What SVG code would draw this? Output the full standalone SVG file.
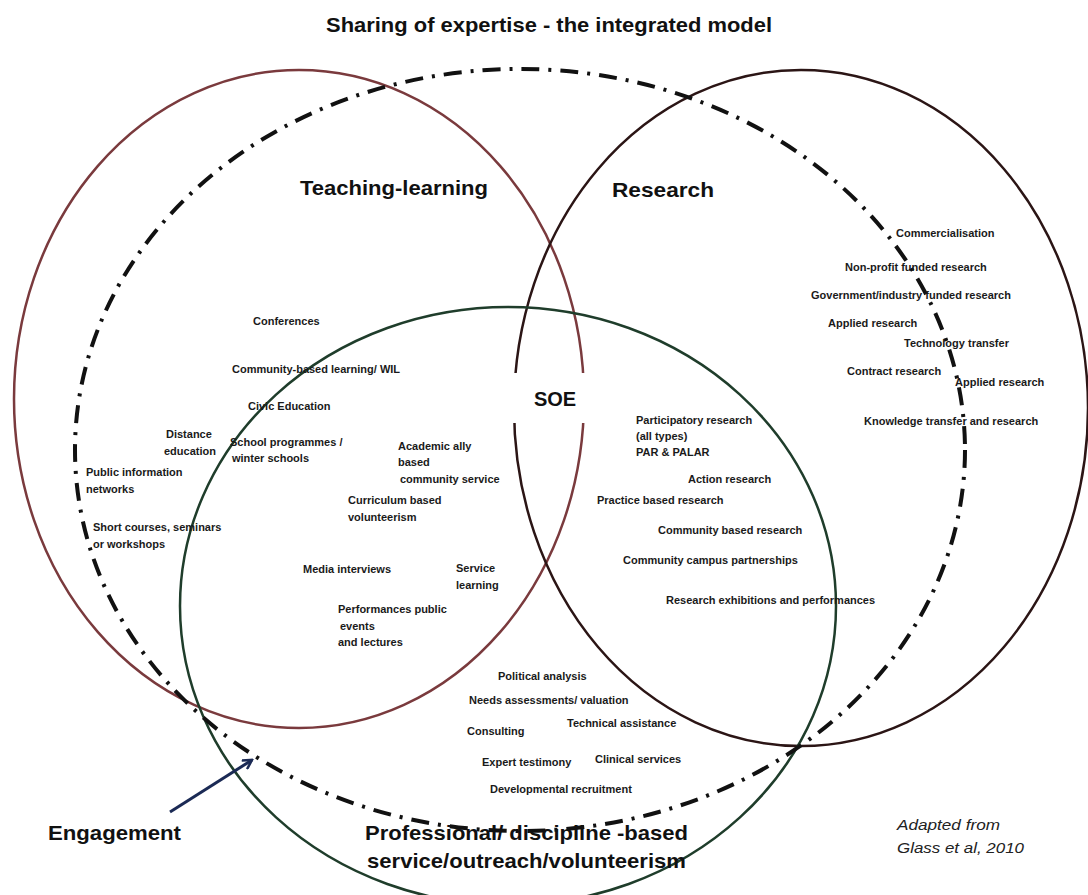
<svg xmlns="http://www.w3.org/2000/svg" width="1088" height="895" viewBox="0 0 1088 895">
<defs>
<style>
.t{font-family:"Liberation Sans",Arial,sans-serif;font-size:11px;fill:#1a1a1a;font-weight:bold;}
.h{font-family:"Liberation Sans",Arial,sans-serif;font-size:21px;font-weight:bold;fill:#111;}
.i{font-family:"Liberation Sans",Arial,sans-serif;font-size:15px;font-style:italic;fill:#222;}
.c{fill:none;stroke-width:2.5;}
</style>
<marker id="arr" markerWidth="12" markerHeight="12" refX="10" refY="6" orient="auto" markerUnits="userSpaceOnUse">
<path d="M1,1 L10,6 L1,11" fill="none" stroke="#1b2a55" stroke-width="2.5"/>
</marker>
</defs>
<rect width="1088" height="895" fill="#fff"/>
<text class="h" x="326" y="32" textLength="446" lengthAdjust="spacingAndGlyphs">Sharing of expertise - the integrated model</text>

<g id="circles">
<ellipse id="teaching" class="c" cx="299" cy="399" rx="285" ry="329" stroke="#7a3a3d"/>
<ellipse id="research" class="c" cx="801" cy="408" rx="287" ry="338" stroke="#2b1515"/>
<ellipse id="professional" class="c" cx="508" cy="606" rx="328" ry="299" stroke="#1f3d2b"/>
<ellipse id="engagement" cx="520" cy="450" rx="445" ry="381" fill="none" stroke="#111" stroke-width="4" stroke-dasharray="18 9 3 9"/>
</g>

<g id="connectors">
<line x1="170" y1="812" x2="252" y2="760" stroke="#1b2a55" stroke-width="3" marker-end="url(#arr)"/>
</g>

<g id="soe">
<rect x="511" y="373" width="81" height="50" fill="#fff"/>
<text class="h" x="555" y="406" text-anchor="middle" style="font-size:20px">SOE</text>
</g>

<g id="teaching-learning">
<text class="h" x="300" y="195" textLength="188" lengthAdjust="spacingAndGlyphs">Teaching-learning</text>
<text class="t" x="253" y="325">Conferences</text>
<text class="t" x="232" y="373">Community-based learning/ WIL</text>
<text class="t" x="248" y="410">Civic Education</text>
<text class="t" x="166" y="438">Distance</text>
<text class="t" x="164" y="455">education</text>
<text class="t" x="230" y="446">School programmes /</text>
<text class="t" x="232" y="462">winter schools</text>
<text class="t" x="398" y="450">Academic ally</text>
<text class="t" x="398" y="466">based</text>
<text class="t" x="400" y="483">community service</text>
<text class="t" x="86" y="476">Public information</text>
<text class="t" x="86" y="493">networks</text>
<text class="t" x="348" y="504">Curriculum based</text>
<text class="t" x="348" y="521">volunteerism</text>
<text class="t" x="93" y="531">Short courses, seminars</text>
<text class="t" x="93" y="548">or  workshops</text>
<text class="t" x="303" y="573">Media interviews</text>
<text class="t" x="456" y="572">Service</text>
<text class="t" x="456" y="589">learning</text>
<text class="t" x="338" y="613">Performances public</text>
<text class="t" x="340" y="630">events</text>
<text class="t" x="338" y="646">and lectures</text>
</g>

<g id="research-labels">
<text class="h" x="612" y="197" textLength="102" lengthAdjust="spacingAndGlyphs">Research</text>
<text class="t" x="896" y="237">Commercialisation</text>
<text class="t" x="845" y="271">Non-profit funded research</text>
<text class="t" x="811" y="299">Government/industry funded research</text>
<text class="t" x="828" y="327">Applied research</text>
<text class="t" x="904" y="347">Technology transfer</text>
<text class="t" x="847" y="375">Contract research</text>
<text class="t" x="955" y="386">Applied research</text>
<text class="t" x="864" y="425">Knowledge transfer and research</text>
<text class="t" x="636" y="424">Participatory research</text>
<text class="t" x="636" y="440">(all types)</text>
<text class="t" x="636" y="456">PAR &amp; PALAR</text>
<text class="t" x="688" y="483">Action research</text>
<text class="t" x="597" y="504">Practice based research</text>
<text class="t" x="658" y="534">Community based research</text>
<text class="t" x="623" y="564">Community campus partnerships</text>
<text class="t" x="666" y="604">Research exhibitions and performances</text>
</g>

<g id="professional-labels">
<text class="t" x="498" y="680">Political analysis</text>
<text class="t" x="469" y="704">Needs assessments/ valuation</text>
<text class="t" x="567" y="727">Technical assistance</text>
<text class="t" x="467" y="735">Consulting</text>
<text class="t" x="482" y="766">Expert testimony</text>
<text class="t" x="595" y="763">Clinical services</text>
<text class="t" x="490" y="793">Developmental recruitment</text>
<text class="h" x="365" y="840" textLength="323" lengthAdjust="spacingAndGlyphs">Professional/ discipline -based</text>
<text class="h" x="367" y="868" textLength="319" lengthAdjust="spacingAndGlyphs">service/outreach/volunteerism</text>
</g>

<g id="engagement-label">
<text class="h" x="48" y="840" textLength="133" lengthAdjust="spacingAndGlyphs">Engagement</text>
</g>

<g id="source">
<text class="i" x="897" y="830" textLength="103" lengthAdjust="spacingAndGlyphs">Adapted from</text>
<text class="i" x="897" y="853" textLength="127" lengthAdjust="spacingAndGlyphs">Glass et al, 2010</text>
</g>
</svg>
